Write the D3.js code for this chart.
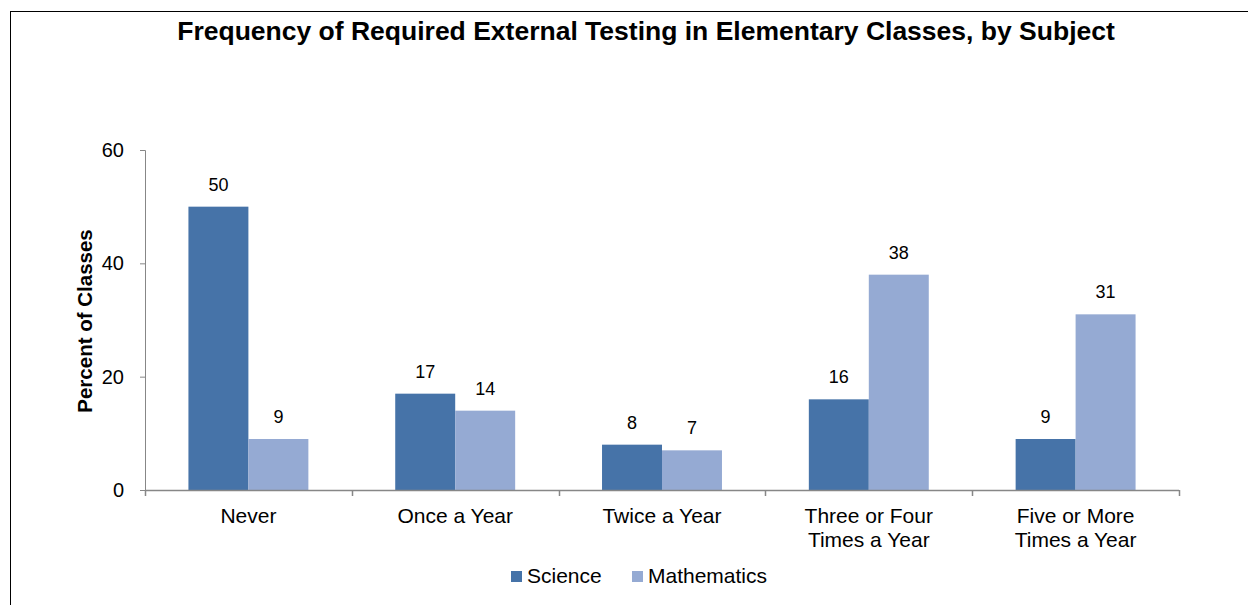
<!DOCTYPE html>
<html>
<head>
<meta charset="utf-8">
<script src="https://cdn.jsdelivr.net/npm/d3@7"></script>
<style>
  body { margin: 0; background: #fff; }
  text { font-family: Arial, "Liberation Sans", sans-serif; }
</style>
</head>
<body>
<svg id="chart" width="1248" height="605"></svg>
<script>
var categories = [["Never"], ["Once a Year"], ["Twice a Year"], ["Three or Four", "Times a Year"], ["Five or More", "Times a Year"]];
var seriesNames = ["Science", "Mathematics"];
var science = [50, 17, 8, 16, 9];
var mathematics = [9, 14, 7, 38, 31];
var yTicks = [0, 20, 40, 60];
var colors = ["#4673a8", "#95aad3"];

var svg = d3.select("#chart"),
    margin = {top: 150, left: 145, right: 69, bottom: 115},
    width = 1248 - margin.left - margin.right,
    height = 605 - margin.top - margin.bottom;

// outer frame (runs off the right and bottom edges)
svg.append("rect")
    .attr("x", 10.5).attr("y", 11.5)
    .attr("width", 1260).attr("height", 620)
    .attr("fill", "none").attr("stroke", "#000").attr("stroke-width", 1);

svg.append("text")
    .attr("x", 646).attr("y", 40)
    .attr("text-anchor", "middle")
    .attr("font-size", 26.5).attr("font-weight", "bold")
    .text("Frequency of Required External Testing in Elementary Classes, by Subject");

var g = svg.append("g").attr("transform", "translate(" + margin.left + "," + margin.top + ")");

var x0 = d3.scaleBand().domain(d3.range(categories.length)).range([0, width]).paddingInner(0).paddingOuter(0);
var x1 = d3.scaleBand().domain([0, 1]).range([x0.bandwidth() * 0.21, x0.bandwidth() * 0.79]);
var y = d3.scaleLinear().domain([0, 60]).range([height, 0]);

var data = categories.map(function(c, i) { return [science[i], mathematics[i]]; });

var groups = g.selectAll(".grp").data(data).enter().append("g")
    .attr("transform", function(d, i) { return "translate(" + x0(i) + ",0)"; });

groups.selectAll("rect").data(function(d) { return d; }).enter().append("rect")
    .attr("x", function(d, j) { return x1(j); })
    .attr("width", x1.bandwidth())
    .attr("y", function(d) { return y(d); })
    .attr("height", function(d) { return height - y(d); })
    .attr("fill", function(d, j) { return colors[j]; });

groups.selectAll(".val").data(function(d) { return d; }).enter().append("text")
    .attr("x", function(d, j) { return x1(j) + x1.bandwidth() / 2; })
    .attr("y", function(d) { return y(d) - 16; })
    .attr("text-anchor", "middle")
    .attr("font-size", 18)
    .text(function(d) { return d; });

// y axis
var yAxis = g.append("g")
    .call(d3.axisLeft(y).tickValues(yTicks).tickSize(5).tickPadding(16));
yAxis.select(".domain").attr("stroke", "#878787").attr("d", "M-5,0.5H0.5V" + height);
yAxis.selectAll(".tick line").attr("stroke", "#878787");
yAxis.selectAll(".tick text").attr("font-size", 20).attr("fill", "#000").attr("font-family", "Arial, 'Liberation Sans', sans-serif");

// x axis line with ticks at category boundaries
var xa = g.append("g").attr("transform", "translate(0," + height + ")");
xa.append("line").attr("x1", 0).attr("x2", width).attr("y1", 0.5).attr("y2", 0.5)
    .attr("stroke", "#878787").attr("stroke-width", 1.5);
xa.selectAll(".bt").data(d3.range(categories.length + 1)).enter().append("line")
    .attr("x1", function(i) { return Math.round(i * x0.step()) + 0.5; })
    .attr("x2", function(i) { return Math.round(i * x0.step()) + 0.5; })
    .attr("y1", 0).attr("y2", 6)
    .attr("stroke", "#878787").attr("stroke-width", 1.5);

xa.selectAll(".cl").data(categories).enter().append("text")
    .attr("x", function(d, i) { return x0(i) + x0.bandwidth() / 2; })
    .attr("y", 33)
    .attr("text-anchor", "middle")
    .attr("font-size", 21)
    .selectAll("tspan").data(function(d) { return d; }).enter().append("tspan")
    .attr("x", function() { return d3.select(this.parentNode).attr("x"); })
    .attr("dy", function(d, k) { return k ? 24 : 0; })
    .text(function(d) { return d; });

// y label
svg.append("text")
    .attr("transform", "translate(92,321) rotate(-90)")
    .attr("text-anchor", "middle")
    .attr("font-size", 20.5).attr("font-weight", "bold")
    .text("Percent of Classes");

// legend
var legend = svg.append("g").attr("transform", "translate(511,583)");
var lx = [0, 121];
seriesNames.forEach(function(s, i) {
  legend.append("rect").attr("x", lx[i]).attr("y", -12).attr("width", 11).attr("height", 11).attr("fill", colors[i]);
  legend.append("text").attr("x", lx[i] + 16).attr("y", 0).attr("font-size", 21).text(s);
});
</script>
</body>
</html>
